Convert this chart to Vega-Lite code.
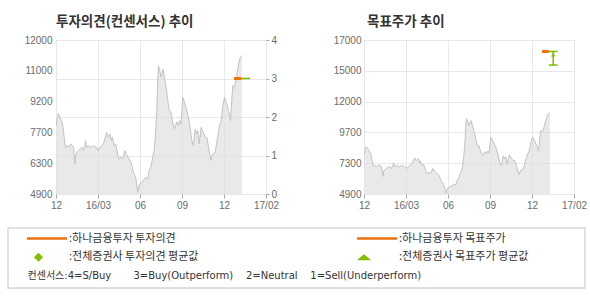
{
  "$schema": "https://vega.github.io/schema/vega-lite/v6.json",
  "background": "white",
  "padding": {"left": 7, "top": 14, "right": 3, "bottom": 0},
  "config": {
    "view": {"stroke": "#b4b4b4", "strokeWidth": 1},
    "font": "Liberation Sans",
    "axis": {"labelFont": "Liberation Sans", "labelFontSize": 10, "labelColor": "#6b6b6b", "domain": false, "gridColor": "#e8e8e8", "tickColor": "#aaaaaa", "zindex": 1, "labelFlush": false, "labelOverlap": false},
    "title": {"font": "Noto Sans CJK KR", "fontSize": 13.5, "fontWeight": "bold", "color": "#333333", "anchor": "start", "frame": "group", "offset": 7}
  },
  "datasets": {
    "price": [
      {"t": 0.004, "p": 8050}, {"t": 0.052, "p": 8620}, {"t": 0.091, "p": 8440}, {"t": 0.131, "p": 8280},
      {"t": 0.171, "p": 7970}, {"t": 0.195, "p": 7510}, {"t": 0.227, "p": 7050}, {"t": 0.274, "p": 7130},
      {"t": 0.306, "p": 7050}, {"t": 0.354, "p": 7210}, {"t": 0.386, "p": 7130}, {"t": 0.418, "p": 7050},
      {"t": 0.449, "p": 6280}, {"t": 0.473, "p": 6740}, {"t": 0.529, "p": 6900}, {"t": 0.569, "p": 6980},
      {"t": 0.609, "p": 7050}, {"t": 0.648, "p": 6900}, {"t": 0.688, "p": 7130}, {"t": 0.704, "p": 7360},
      {"t": 0.728, "p": 7050}, {"t": 0.768, "p": 7130}, {"t": 0.847, "p": 7050}, {"t": 0.887, "p": 7130},
      {"t": 0.967, "p": 7050}, {"t": 1.006, "p": 6900}, {"t": 1.046, "p": 7050}, {"t": 1.086, "p": 7130},
      {"t": 1.126, "p": 7210}, {"t": 1.165, "p": 7440}, {"t": 1.205, "p": 7740}, {"t": 1.245, "p": 7510},
      {"t": 1.285, "p": 7670}, {"t": 1.325, "p": 7360}, {"t": 1.34, "p": 7510}, {"t": 1.388, "p": 7130},
      {"t": 1.42, "p": 7210}, {"t": 1.468, "p": 6740}, {"t": 1.5, "p": 6510}, {"t": 1.547, "p": 6590},
      {"t": 1.587, "p": 6510}, {"t": 1.643, "p": 6900}, {"t": 1.69, "p": 6670}, {"t": 1.738, "p": 6510},
      {"t": 1.786, "p": 6360}, {"t": 1.842, "p": 5900}, {"t": 1.897, "p": 5670}, {"t": 1.929, "p": 5210},
      {"t": 1.945, "p": 4980}, {"t": 1.985, "p": 5360}, {"t": 2.041, "p": 5440}, {"t": 2.08, "p": 5520},
      {"t": 2.136, "p": 5670}, {"t": 2.184, "p": 5590}, {"t": 2.216, "p": 5980}, {"t": 2.255, "p": 6130},
      {"t": 2.303, "p": 6590}, {"t": 2.343, "p": 6980}, {"t": 2.375, "p": 7820}, {"t": 2.399, "p": 8740},
      {"t": 2.423, "p": 10130}, {"t": 2.438, "p": 10820}, {"t": 2.47, "p": 10590}, {"t": 2.502, "p": 10280},
      {"t": 2.55, "p": 10660}, {"t": 2.582, "p": 10280}, {"t": 2.629, "p": 9740}, {"t": 2.653, "p": 9360},
      {"t": 2.693, "p": 8740}, {"t": 2.741, "p": 8670}, {"t": 2.772, "p": 8280}, {"t": 2.82, "p": 7900},
      {"t": 2.876, "p": 8210}, {"t": 2.916, "p": 8050}, {"t": 2.94, "p": 8280}, {"t": 2.971, "p": 8130},
      {"t": 2.995, "p": 8590}, {"t": 3.019, "p": 9360}, {"t": 3.059, "p": 9130}, {"t": 3.115, "p": 8740},
      {"t": 3.17, "p": 8280}, {"t": 3.234, "p": 7360}, {"t": 3.274, "p": 7130}, {"t": 3.313, "p": 7900},
      {"t": 3.353, "p": 7670}, {"t": 3.377, "p": 7820}, {"t": 3.409, "p": 7210}, {"t": 3.457, "p": 7970},
      {"t": 3.488, "p": 7820}, {"t": 3.552, "p": 7510}, {"t": 3.592, "p": 7510}, {"t": 3.632, "p": 7050},
      {"t": 3.687, "p": 6440}, {"t": 3.727, "p": 6740}, {"t": 3.791, "p": 6820}, {"t": 3.846, "p": 7510},
      {"t": 3.886, "p": 7970}, {"t": 3.934, "p": 8280}, {"t": 3.974, "p": 8970}, {"t": 4.014, "p": 9360},
      {"t": 4.053, "p": 9130}, {"t": 4.109, "p": 8740}, {"t": 4.157, "p": 8280}, {"t": 4.189, "p": 9360},
      {"t": 4.212, "p": 9900}, {"t": 4.252, "p": 9820}, {"t": 4.284, "p": 10130}, {"t": 4.308, "p": 10430},
      {"t": 4.348, "p": 10890}, {"t": 4.388, "p": 11200}, {"t": 4.427, "p": 11280}
    ],
    "opinion": [
      {"src": "hana", "t1": 4.24, "t2": 4.41, "v": 3},
      {"src": "cons", "t1": 4.41, "t2": 4.62, "v": 3}
    ],
    "target": [
      {"src": "hana", "t1": 4.24, "t2": 4.40, "v": 16100},
      {"src": "cons", "t1": 4.40, "t2": 4.61, "v": 16100},
      {"src": "cons", "t1": 4.40, "t2": 4.61, "v": 15030}
    ],
    "targetRange": [
      {"t": 4.505, "lo": 15030, "hi": 16100, "avg": 15850}
    ],
    "legend": [
      {"col": "L", "row": 1, "kind": "line", "label": ":하나금융투자 투자의견"},
      {"col": "R", "row": 1, "kind": "line", "label": ":하나금융투자 목표주가"},
      {"col": "L", "row": 2, "kind": "diamond", "label": ":전체증권사 투자의견 평균값"},
      {"col": "R", "row": 2, "kind": "triangle", "label": ":전체증권사 목표주가 평균값"},
      {"col": "L", "row": 3, "kind": "note", "label": "컨센서스:4=S/Buy\u00a0\u00a0\u00a0\u00a0\u00a0\u00a0\u00a03=Buy(Outperform)\u00a0\u00a0\u00a0\u00a02=Neutral\u00a0\u00a0\u00a0\u00a01=Sell(Underperform)"}
    ]
  },
  "concat": [
    {
      "hconcat": [
        {
          "width": 1,
          "height": 1,
          "view": {"stroke": null},
          "data": {"values": []},
          "mark": {"type": "point"},
          "encoding": {}
        },
        {
          "hconcat": [
            {
              "width": 210,
              "height": 154,
              "title": {"text": "투자의견(컨센서스) 추이"},
              "layer": [
                {
                  "data": {"name": "price"},
                  "mark": {"type": "area", "color": "#e0e0e0", "clip": true, "line": {"color": "#c2c2c2", "strokeWidth": 1}},
                  "encoding": {
                    "x": {"field": "t", "type": "quantitative", "scale": {"domain": [0, 5], "nice": false},
                      "axis": {"values": [0, 1, 2, 3, 4, 5], "labelExpr": "['12','16/03','06','09','12','17/02'][datum.value]", "grid": true, "tickSize": 4, "labelPadding": 2, "title": null, "labelOverlap": false}},
                    "y": {"field": "p", "type": "quantitative", "scale": {"domain": [4900, 12000], "nice": false, "zero": false},
                      "axis": {"values": [4900, 6320, 7740, 9160, 10580, 12000], "labelExpr": "{'4900':'4900','6320':'6300','7740':'7700','9160':'9200','10580':'11000','12000':'12000'}[''+datum.value]", "grid": false, "ticks": false, "tickSize": 0, "labelPadding": 4, "labelOverlap": false, "title": null}},
                    "y2": {"datum": 4900}
                  }
                },
                {
                  "data": {"name": "opinion"},
                  "mark": {"type": "rule"},
                  "encoding": {
                    "x": {"field": "t1", "type": "quantitative", "scale": {"domain": [0, 5], "nice": false},
                      "axis": {"values": [0, 1, 2, 3, 4, 5], "labelExpr": "['12','16/03','06','09','12','17/02'][datum.value]", "grid": true, "tickSize": 4, "labelPadding": 2, "title": null, "labelOverlap": false}},
                    "x2": {"field": "t2"},
                    "y": {"field": "v", "type": "quantitative", "scale": {"domain": [0, 4], "nice": false},
                      "axis": {"orient": "right", "values": [0, 1, 2, 3, 4], "grid": true, "tickSize": 3, "labelPadding": 2, "labelOverlap": false, "title": null}},
                    "color": {"field": "src", "type": "nominal", "scale": {"domain": ["hana", "cons"], "range": ["#f07000", "#7cbb00"]}, "legend": null},
                    "strokeWidth": {"field": "src", "type": "nominal", "scale": {"domain": ["hana", "cons"], "range": [3, 1.5]}, "legend": null}
                  }
                }
              ],
              "resolve": {"scale": {"y": "independent"}}
            },
            {
              "width": 210,
              "height": 154,
              "title": {"text": "목표주가 추이", "dx": 3},
              "layer": [
                {
                  "data": {"name": "price"},
                  "mark": {"type": "area", "color": "#e0e0e0", "clip": true, "line": {"color": "#c2c2c2", "strokeWidth": 1}},
                  "encoding": {
                    "x": {"field": "t", "type": "quantitative", "scale": {"domain": [0, 5], "nice": false},
                      "axis": {"values": [0, 1, 2, 3, 4, 5], "labelExpr": "['12','16/03','06','09','12','17/02'][datum.value]", "grid": true, "tickSize": 4, "labelPadding": 2, "title": null, "labelOverlap": false}},
                    "y": {"field": "p", "type": "quantitative", "scale": {"domain": [4900, 17000], "nice": false, "zero": false},
                      "axis": {"values": [4900, 7320, 9740, 12160, 14580, 17000], "labelExpr": "{'4900':'4900','7320':'7300','9740':'9700','12160':'12000','14580':'15000','17000':'17000'}[''+datum.value]", "grid": true, "ticks": false, "tickSize": 0, "labelPadding": 3, "labelOverlap": false, "title": null}},
                    "y2": {"datum": 4900}
                  }
                },
                {
                  "data": {"name": "target"},
                  "mark": {"type": "rule"},
                  "encoding": {
                    "x": {"field": "t1", "type": "quantitative", "scale": {"domain": [0, 5], "nice": false},
                      "axis": {"values": [0, 1, 2, 3, 4, 5], "labelExpr": "['12','16/03','06','09','12','17/02'][datum.value]", "grid": true, "tickSize": 4, "labelPadding": 2, "title": null, "labelOverlap": false}},
                    "x2": {"field": "t2"},
                    "y": {"field": "v", "type": "quantitative", "scale": {"domain": [4900, 17000], "nice": false, "zero": false},
                      "axis": {"values": [4900, 7320, 9740, 12160, 14580, 17000], "labelExpr": "{'4900':'4900','7320':'7300','9740':'9700','12160':'12000','14580':'15000','17000':'17000'}[''+datum.value]", "grid": true, "ticks": false, "tickSize": 0, "labelPadding": 3, "labelOverlap": false, "title": null}},
                    "color": {"field": "src", "type": "nominal", "scale": {"domain": ["hana", "cons"], "range": ["#f07000", "#7cbb00"]}, "legend": null},
                    "strokeWidth": {"field": "src", "type": "nominal", "scale": {"domain": ["hana", "cons"], "range": [3, 1.5]}, "legend": null}
                  }
                },
                {
                  "data": {"name": "targetRange"},
                  "mark": {"type": "rule", "color": "#7cbb00", "strokeWidth": 1.5},
                  "encoding": {
                    "x": {"field": "t", "type": "quantitative", "scale": {"domain": [0, 5], "nice": false},
                      "axis": {"values": [0, 1, 2, 3, 4, 5], "labelExpr": "['12','16/03','06','09','12','17/02'][datum.value]", "grid": true, "tickSize": 4, "labelPadding": 2, "title": null, "labelOverlap": false}},
                    "y": {"field": "lo", "type": "quantitative", "scale": {"domain": [4900, 17000], "nice": false, "zero": false},
                      "axis": {"values": [4900, 7320, 9740, 12160, 14580, 17000], "labelExpr": "{'4900':'4900','7320':'7300','9740':'9700','12160':'12000','14580':'15000','17000':'17000'}[''+datum.value]", "grid": true, "ticks": false, "tickSize": 0, "labelPadding": 3, "labelOverlap": false, "title": null}},
                    "y2": {"field": "hi"}
                  }
                },
                {
                  "data": {"name": "targetRange"},
                  "mark": {"type": "point", "shape": "triangle-up", "filled": true, "color": "#7cbb00", "size": 18, "opacity": 1},
                  "encoding": {
                    "x": {"field": "t", "type": "quantitative", "scale": {"domain": [0, 5], "nice": false},
                      "axis": {"values": [0, 1, 2, 3, 4, 5], "labelExpr": "['12','16/03','06','09','12','17/02'][datum.value]", "grid": true, "tickSize": 4, "labelPadding": 2, "title": null, "labelOverlap": false}},
                    "y": {"field": "avg", "type": "quantitative", "scale": {"domain": [4900, 17000], "nice": false, "zero": false},
                      "axis": {"values": [4900, 7320, 9740, 12160, 14580, 17000], "labelExpr": "{'4900':'4900','7320':'7300','9740':'9700','12160':'12000','14580':'15000','17000':'17000'}[''+datum.value]", "grid": true, "ticks": false, "tickSize": 0, "labelPadding": 3, "labelOverlap": false, "title": null}}
                  }
                }
              ]
            }
          ],
          "spacing": 52
        }
      ],
      "spacing": 14
    },
    {
      "width": 577,
      "height": 60,
      "view": {"stroke": "#d8d8d8", "strokeWidth": 1.5, "fill": "white"},
      "data": {"name": "legend"},
      "encoding": {
        "x": {"field": "col", "type": "nominal", "scale": {"type": "point", "domain": ["L", "R"], "range": [19, 349], "padding": 0}, "axis": null},
        "y": {"field": "row", "type": "ordinal", "scale": {"type": "point", "domain": [1, 2, 3], "range": [10.5, 48], "padding": 0}, "axis": null}
      },
      "layer": [
        {
          "transform": [{"filter": "datum.kind == 'line'"}],
          "mark": {"type": "point", "shape": "M0,0H2", "filled": false, "color": "#e8700f", "strokeWidth": 2.5, "size": 1600, "opacity": 1}
        },
        {
          "transform": [{"filter": "datum.kind == 'diamond'"}],
          "mark": {"type": "point", "shape": "diamond", "filled": true, "color": "#80c000", "size": 85, "opacity": 1, "xOffset": 11.5}
        },
        {
          "transform": [{"filter": "datum.kind == 'triangle'"}],
          "mark": {"type": "point", "shape": "M-1,0.42L1,0.42L0,-0.42Z", "filled": true, "color": "#80c000", "size": 205, "opacity": 1, "xOffset": 7}
        },
        {
          "transform": [{"filter": "datum.kind != 'note'"}],
          "mark": {"type": "text", "align": "left", "baseline": "middle", "font": "Noto Sans CJK KR", "fontSize": 11, "color": "#333333", "xOffset": 42},
          "encoding": {"text": {"field": "label"}}
        },
        {
          "transform": [{"filter": "datum.kind == 'note'"}],
          "mark": {"type": "text", "align": "left", "baseline": "middle", "font": "DejaVu Sans, Noto Sans CJK KR", "fontSize": 10, "color": "#333333", "xOffset": 0.5},
          "encoding": {"text": {"field": "label"}}
        }
      ]
    }
  ],
  "columns": 1,
  "align": "none",
  "spacing": 16
}
